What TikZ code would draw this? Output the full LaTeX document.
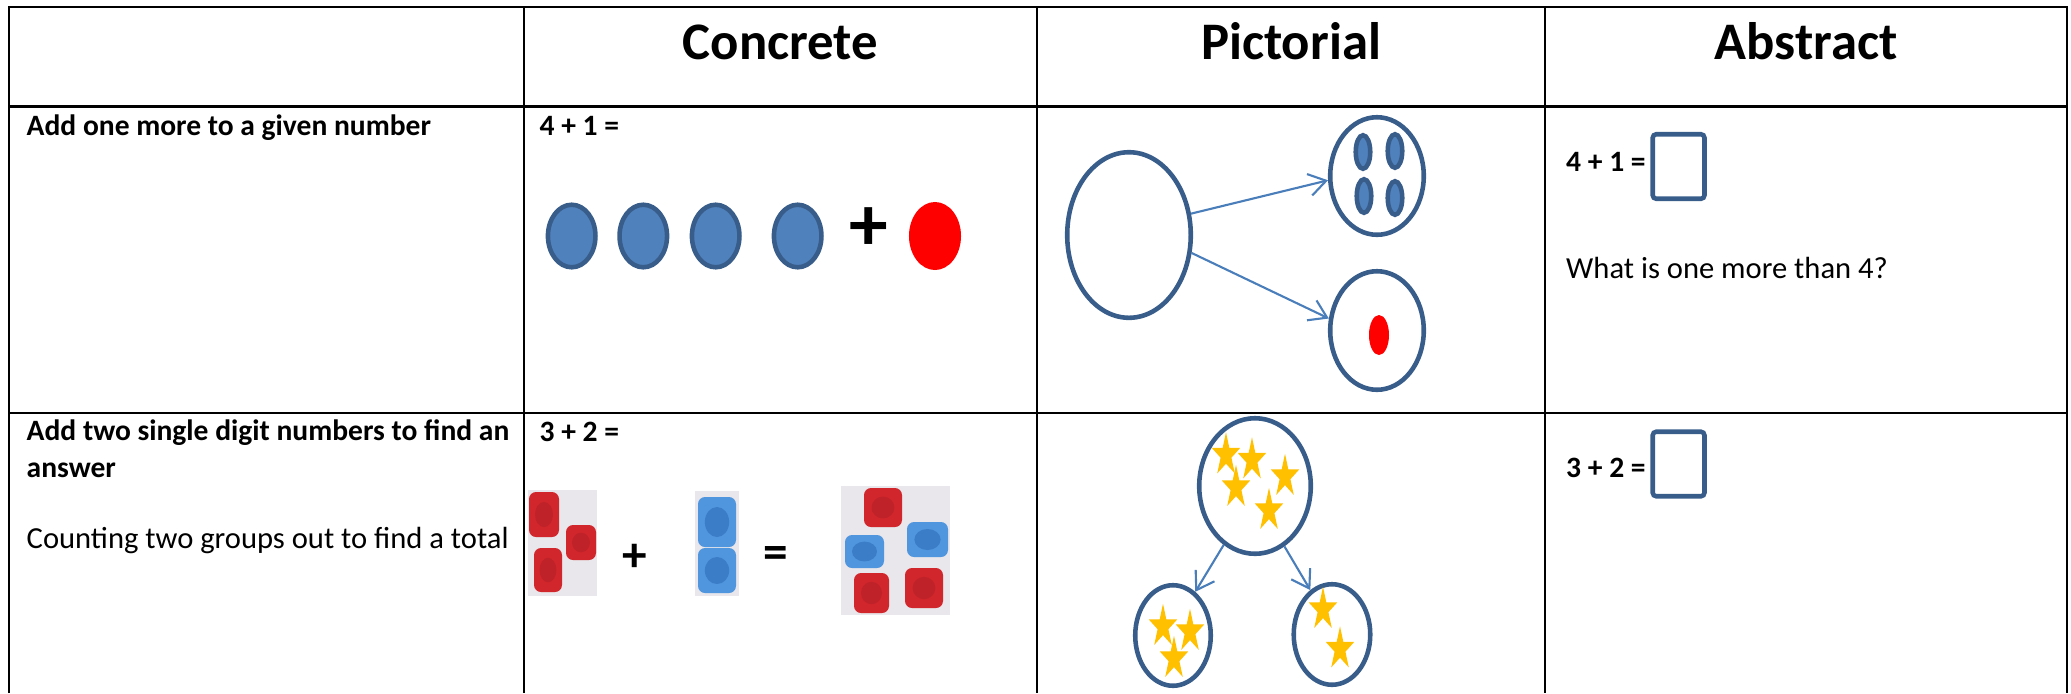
\documentclass[tikz,border=0pt]{standalone}
\usepackage{fontspec}
\setmainfont{Carlito}
\usetikzlibrary{shapes.geometric,arrows.meta,positioning}

\definecolor{ovalline}{HTML}{385D8A}
\definecolor{ovalfill}{HTML}{4F81BD}
\definecolor{linkblue}{HTML}{4A7EBB}
\definecolor{stargold}{HTML}{FFC000}
\definecolor{photobg}{HTML}{E9E7EB}
\definecolor{cubered}{HTML}{D1262B}
\definecolor{holered}{HTML}{C0222A}
\definecolor{cubeblue}{HTML}{4F96DE}
\definecolor{holeblue}{HTML}{3B7DC6}

\tikzset{
  grid/.style={line width=0.75pt},
  headtext/.style={font=\fontsize{15}{18}\selectfont\bfseries, anchor=base, inner sep=0},
  celltext/.style={font=\fontsize{8.7}{10}\selectfont, anchor=base west, inner sep=0},
  boldtext/.style={celltext, font=\fontsize{8.4}{10}\selectfont\bfseries},
  counter/.style={ellipse, draw=ovalline, fill=ovalfill, line width=1.3pt, inner sep=0},
  redcounter/.style={ellipse, fill=red, inner sep=0},
  groupring/.style={ellipse, draw=ovalline, fill=white, line width=1.3pt, inner sep=0},
  goldstar/.style={star, star points=5, star point ratio=2.618, fill=stargold,
    inner sep=0, minimum size=0.454cm, xscale=0.656},
  link/.style={-{Straight Barb[length=1.7mm,width=2.2mm]}, draw=linkblue, line width=0.6pt},
  answerbox/.style={draw=ovalline, line width=1.3pt, rounded corners=1pt,
    minimum width=0.517cm, minimum height=0.645cm, inner sep=0},
}

\begin{document}
\begin{tikzpicture}[x=0.01cm, y=-0.01cm]
\useasboundingbox (0,0) rectangle (2071,693);

% table lines
\draw[grid] (9,693) -- (9,7) -- (2067,7) -- (2067,693);
\draw[grid] (9,106.5) -- (2067,106.5);
\draw[grid] (9,413) -- (2067,413);
\foreach \x in {524,1037,1545}
  \draw[grid] (\x,7) -- (\x,693);

% headings
\node[headtext] (concrete)  at (780.5,59) {Concrete};
\node[headtext] (pictorial) at (1291,59)  {Pictorial};
\node[headtext] (abstract)  at (1806,59)  {Abstract};

% row 1: one more
\node[boldtext] (oneMore) at (26,135) {Add one more to a given number};
\node[boldtext] (sumA) at (539,135) {4 + 1 =};
\foreach \x [count=\i] in {571.7,643.3,715.7,797.7}
  \node[counter, minimum width=0.475cm, minimum height=0.625cm] (c\i) at (\x,236) {};
\node[font=\fontsize{22}{24}\selectfont\bfseries, inner sep=0] (plusA) at (869,229) {+};
\node[redcounter, minimum width=0.52cm, minimum height=0.68cm] (extra) at (935,236) {};

\node[groupring, minimum width=1.235cm, minimum height=1.655cm] (whole) at (1129,235) {};
\node[groupring, minimum width=0.935cm, minimum height=1.175cm] (four) at (1377,176) {};
\node[groupring, minimum width=0.935cm, minimum height=1.185cm] (one) at (1377,330.5) {};
\foreach \x/\y [count=\i] in {1363/152,1395/151,1364/196,1395/198}
  \node[counter, minimum width=0.145cm, minimum height=0.335cm] (f\i) at (\x,\y) {};
\node[redcounter, minimum width=0.2cm, minimum height=0.4cm] (oneDot) at (1379,335) {};
\draw[link] (whole.19) -- (four.185);
\draw[link] (whole.344) -- (one.166);

\node[boldtext] (sumB) at (1565.5,171) {4 + 1 =};
\node[answerbox] (boxA) at (1678.6,166.5) {};
\node[celltext] (question) at (1565.5,278) {What is one more than 4?};

% row 2: two single digits
\node[boldtext] (twoDigits)  at (26,440) {Add two single digit numbers to find an};
\node[boldtext] (twoDigitsB) at (26,477) {answer};
\node[celltext] (counting) at (26,548) {Counting two groups out to find a total};
\node[boldtext] (sumC) at (539,441) {3 + 2 =};

% cube photos
\fill[photobg] (528,490) rectangle (597,596);
\fill[photobg] (695,491) rectangle (739,596);
\fill[photobg] (841,486) rectangle (950,615);
\foreach \a/\b/\c/\d in {529/492/559/537,566/525/596/560,534/548/562/592,
    864/488/902/527,854/573/889/613,905/568/943/608} {
  \fill[cubered, rounded corners=2pt] (\a,\b) rectangle (\c,\d);
  \fill[holered] ({(\a+\c)/2},{(\b+\d)/2}) ellipse [x radius={(\c-\a)*0.3}, y radius={(\d-\b)*0.28}];
}
\foreach \a/\b/\c/\d in {698/497/736/547,698/548/736/593,
    845/535/884/568,907/522/948/557} {
  \fill[cubeblue, rounded corners=2pt] (\a,\b) rectangle (\c,\d);
  \fill[holeblue] ({(\a+\c)/2},{(\b+\d)/2}) ellipse [x radius={(\c-\a)*0.32}, y radius={(\d-\b)*0.3}];
}
\node[font=\fontsize{14}{16}\selectfont\bfseries, inner sep=0] (plusB) at (635,558) {+};
\node[font=\fontsize{14}{16}\selectfont\bfseries, inner sep=0] (equals) at (776,557) {=};

\node[groupring, minimum width=1.115cm, minimum height=1.355cm] (five) at (1255,486) {};
\node[groupring, minimum width=0.755cm, minimum height=1.005cm] (three) at (1173,635.5) {};
\node[groupring, minimum width=0.765cm, minimum height=1.005cm] (two) at (1332,634.5) {};
\foreach \x/\y [count=\i] in {1226/455,1252/460,1285/476.5,1236/487.5,1269/510.5,
    1163/626.5,1190/631.5,1174/658.5,1323/609.5,1340/649}
  \node[goldstar] (s\i) at (\x,\y) {};
\draw[link] (five.242) -- (three.63);
\draw[link] (five.296) -- (two.116);

\node[boldtext] (sumD) at (1565.5,477) {3 + 2 =};
\node[answerbox] (boxB) at (1678.6,464) {};
\end{tikzpicture}
\end{document}
